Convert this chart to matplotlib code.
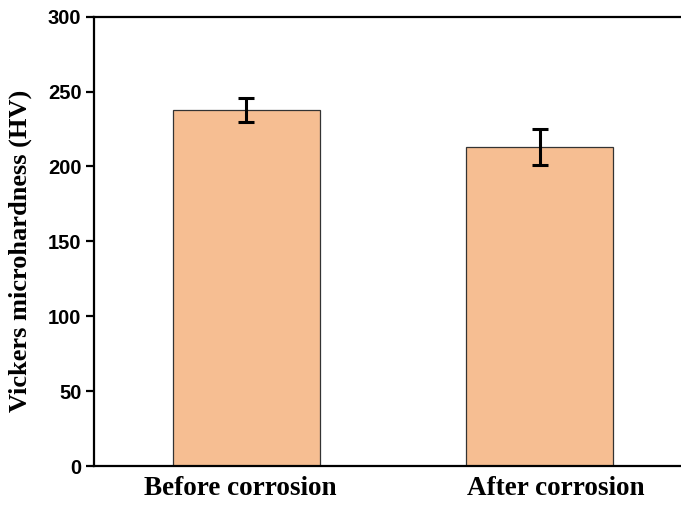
import matplotlib
matplotlib.use("Agg")
import matplotlib.pyplot as plt
from matplotlib.transforms import blended_transform_factory, offset_copy

# Microhardness before and after the corrosion test
conditions = ["Before corrosion", "After corrosion"]
hardness = [238, 213]
hardness_err = [8, 12]

fig = plt.figure(figsize=(6.81, 5.05), dpi=100)
ax = fig.add_axes([0.138, 0.077, 0.862, 0.890])

x = [1, 2]
ax.bar(x, hardness, width=0.5, color="#F6BE92", edgecolor="#333333",
       linewidth=0.9, zorder=2)
ax.errorbar(x, hardness, yerr=hardness_err, fmt="none", ecolor="black",
            elinewidth=2.2, capsize=6, capthick=2.2, zorder=3)

ax.set_xlim(0.482, 2.481)
ax.set_ylim(0, 300)
ax.set_yticks([0, 50, 100, 150, 200, 250, 300])
ax.set_xticks(x)
ax.set_xticklabels([])

# category labels under the bars, nudged slightly off the bar centres
base = blended_transform_factory(ax.transData, ax.transAxes)
for xi, name, dx in zip(x, conditions, [-6, 16]):
    tr = offset_copy(base, fig=fig, x=dx, y=-10, units="dots")
    ax.text(xi, 0, name, transform=tr, ha="center", va="top",
            fontfamily="Liberation Serif", fontweight="bold", fontsize=19.5)

for lab in ax.get_yticklabels():
    lab.set_fontfamily("Liberation Sans")
    lab.set_fontweight("bold")
    lab.set_fontsize(14.5)

ax.set_ylabel("Vickers microhardness (HV)", fontfamily="Liberation Serif",
              fontweight="bold", fontsize=19)
ax.yaxis.set_label_coords(-0.106, 0.48)

for side in ["left", "bottom", "top"]:
    ax.spines[side].set_linewidth(1.6)
ax.spines["right"].set_visible(False)
ax.tick_params(axis="y", direction="out", length=6, width=1.6, pad=3)
ax.tick_params(axis="x", length=0)

fig.savefig("out.png", dpi=100)
